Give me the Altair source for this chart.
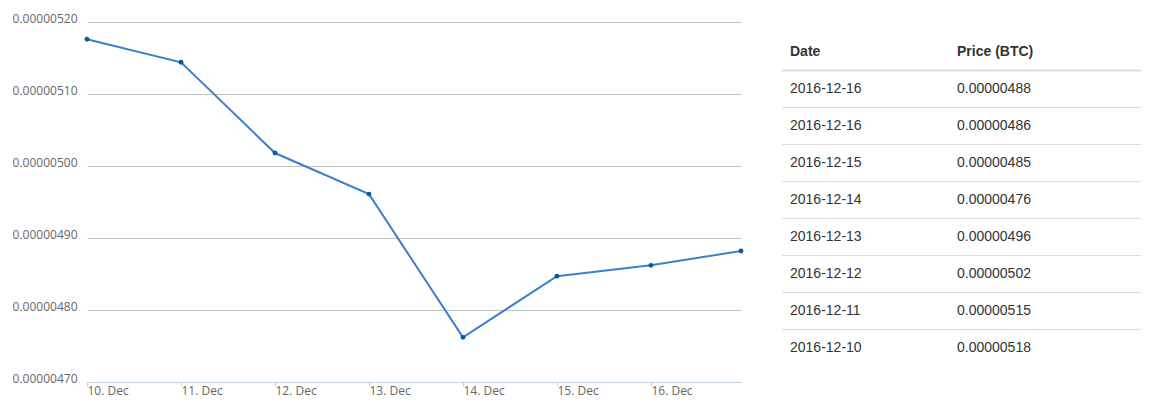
import altair as alt
import pandas as pd

# ---- chart data ----
chart_times = [
    "2016-12-10T00:00:00", "2016-12-11T00:00:00", "2016-12-12T00:00:00",
    "2016-12-13T00:00:00", "2016-12-14T00:00:00", "2016-12-15T00:00:00",
    "2016-12-16T00:00:00", "2016-12-16T23:00:00",
]
chart_prices = [5.176e-6, 5.144e-6, 5.018e-6, 4.961e-6, 4.762e-6, 4.847e-6, 4.862e-6, 4.882e-6]
y_ticks = [4.7e-6, 4.8e-6, 4.9e-6, 5.0e-6, 5.1e-6, 5.2e-6]

# ---- table data ----
table_headers = ["Date", "Price (BTC)"]
table_dates = ["2016-12-16", "2016-12-16", "2016-12-15", "2016-12-14",
               "2016-12-13", "2016-12-12", "2016-12-11", "2016-12-10"]
table_prices = ["0.00000488", "0.00000486", "0.00000485", "0.00000476",
                "0.00000496", "0.00000502", "0.00000515", "0.00000518"]

df = pd.DataFrame({"t": chart_times, "p": chart_prices})

AX_FONT = "Open Sans"
AX_SIZE = 12
AX_COLOR = "#666666"

x_enc = alt.X(
    "t:T",
    scale=alt.Scale(nice=False, padding=0),
    axis=alt.Axis(
        format="%-d. %b",
        tickCount=alt.TimeIntervalStep(interval="day", step=1),
        labelAlign="left",
        labelPadding=-1,
        tickSize=4,
        tickColor="#c0d0e0",
        domainColor="#c0d0e0",
        grid=False,
        labelFont=AX_FONT,
        labelFontSize=AX_SIZE,
        labelColor=AX_COLOR,
        labelFlush=False,
        labelOverlap=False,
        title=None,
    ),
)
y_enc = alt.Y(
    "p:Q",
    scale=alt.Scale(domain=[4.7e-6, 5.2e-6], nice=False, zero=False),
    axis=alt.Axis(
        values=y_ticks,
        format=".8f",
        ticks=False,
        domain=False,
        gridColor="#c0c0c0",
        labelBaseline="alphabetic",
        labelPadding=10,
        labelFont=AX_FONT,
        labelFontSize=AX_SIZE,
        labelColor=AX_COLOR,
        title=None,
    ),
)

base = alt.Chart(df).encode(x=x_enc, y=y_enc)
line = base.mark_line(color="#3d7fcf", strokeWidth=2)
pts = base.mark_circle(color="#0d5a9a", size=24, opacity=1)
line_chart = (line + pts).properties(width=654, height=360)

# ---- table ----
n = len(table_dates)
tdf = pd.DataFrame({"date": table_dates, "price": table_prices, "row": list(range(n))})
hdf = pd.DataFrame({"label": table_headers, "row": [-1] * len(table_headers)})
thick_df = pd.DataFrame({"row": [-0.5]})
thin_df = pd.DataFrame({"row": [i + 0.5 for i in range(n - 1)]})

row_scale = alt.Scale(domain=[-1.811, 7.919], reverse=True, nice=False, zero=False)
TW = 359
DATE_X = 8
PRICE_X = 175

def yrow():
    return alt.Y("row:Q", scale=row_scale, axis=None)

txt = dict(align="left", baseline="middle", font="Liberation Sans", fontSize=14, color="#333333")

h_date = alt.Chart(hdf).transform_filter(alt.datum.label == table_headers[0]).mark_text(
    fontWeight="bold", **txt).encode(y=yrow(), x=alt.value(DATE_X), text="label:N")
h_price = alt.Chart(hdf).transform_filter(alt.datum.label == table_headers[1]).mark_text(
    fontWeight="bold", **txt).encode(y=yrow(), x=alt.value(PRICE_X), text="label:N")
c_date = alt.Chart(tdf).mark_text(**txt).encode(y=yrow(), x=alt.value(DATE_X), text="date:N")
c_price = alt.Chart(tdf).mark_text(**txt).encode(y=yrow(), x=alt.value(PRICE_X), text="price:N")
r_thick = alt.Chart(thick_df).mark_rule(color="#dddddd", strokeWidth=2).encode(
    y=yrow(), x=alt.value(0), x2=alt.value(TW))
r_thin = alt.Chart(thin_df).mark_rule(color="#dddddd", strokeWidth=1).encode(
    y=yrow(), x=alt.value(0), x2=alt.value(TW))

table = (r_thick + r_thin + h_date + h_price + c_date + c_price).properties(width=TW, height=360)

chart = alt.hconcat(line_chart, table, spacing=36).properties(
    padding={"left": 4, "top": 4, "right": 5, "bottom": 5}
).configure_view(strokeWidth=0)

chart.save("out.html", embed_options={"renderer": "svg", "actions": False})
